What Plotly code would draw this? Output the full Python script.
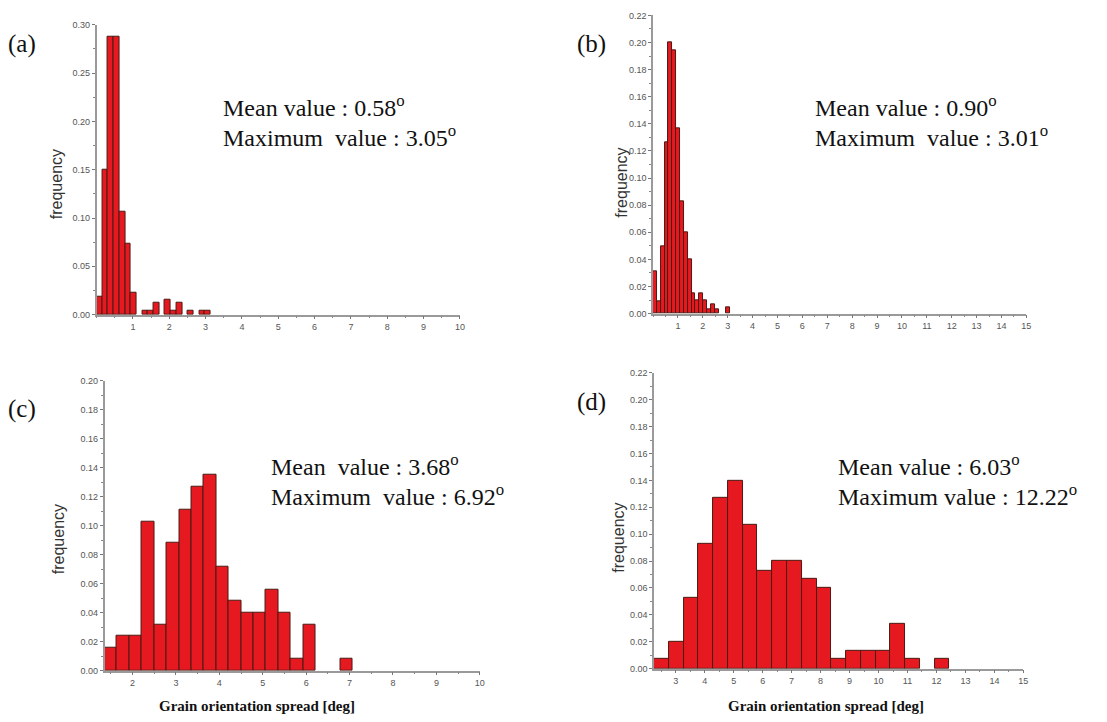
import plotly.graph_objects as go

W, H = 1107, 722

# ---------------- data ----------------
# each histogram: first bin edge, bin width, frequencies of 20 bins
a_start, a_width = 0.0, 0.157
a_freq = [0.019, 0.150, 0.288, 0.288, 0.106, 0.073, 0.023, 0.0, 0.004, 0.004,
          0.012, 0.0, 0.015, 0.004, 0.012, 0.0, 0.004, 0.0, 0.004, 0.004]

b_start, b_width = 0.0, 0.155
b_freq = [0.031, 0.009, 0.050, 0.126, 0.200, 0.194, 0.137, 0.083, 0.060, 0.040,
          0.015, 0.010, 0.015, 0.010, 0.003, 0.007, 0.003, 0.0, 0.0, 0.005]

c_start, c_width = 1.356, 0.286
c_freq = [0.016, 0.024, 0.024, 0.103, 0.032, 0.088, 0.111, 0.127, 0.135, 0.072,
          0.048, 0.040, 0.040, 0.056, 0.040, 0.008, 0.032, 0.0, 0.0, 0.008]

d_start, d_width = 2.25, 0.51
d_freq = [0.007, 0.020, 0.053, 0.093, 0.127, 0.140, 0.107, 0.073, 0.080, 0.080,
          0.067, 0.060, 0.007, 0.013, 0.013, 0.013, 0.033, 0.007, 0.0, 0.007]

a_xrange, a_yrange, a_ydtick = [0, 10], [0, 0.30], 0.05
b_xrange, b_yrange, b_ydtick = [0, 15], [0, 0.22], 0.02
c_xrange, c_yrange, c_ydtick = [1.356, 10], [0, 0.20], 0.02
d_xrange, d_yrange, d_ydtick = [2.25, 15], [0, 0.22], 0.02

a_xticks = list(range(1, 11))
b_xticks = list(range(1, 16))
c_xticks = list(range(2, 11))
d_xticks = list(range(3, 16))

panel_labels = ["(a)", "(b)", "(c)", "(d)"]
mean_texts = ["Mean value : 0.58", "Mean value : 0.90",
              "Mean\u00a0 value : 3.68", "Mean value : 6.03"]
max_texts = ["Maximum\u00a0 value : 3.05", "Maximum\u00a0 value : 3.01",
             "Maximum\u00a0 value : 6.92", "Maximum value : 12.22"]
y_title = "frequency"
x_title = "Grain orientation spread [deg]"

# ---------------- layout geometry (pixels) ----------------
# (left, right, top, bottom) of each plot area
boxes = [(97, 462, 20, 314), (656, 1031, 10.5, 313),
         (105, 482, 381, 675), (657, 1028, 373, 673)]
text_pos = [(222, 102, 133), (817, 102, 133), (270, 466, 497), (840, 466, 497)]
label_pos = [(6, 40), (578, 40), (6, 410), (578, 403)]
ytitle_pos = [(57, 182), (624, 180), (59, 542), (621, 540)]
xtitle_cx = [None, None, 258, 830]

BAR = "#e5191f"
EDGE = "#4a1a14"
AX = "#9a9a9a"
TICKF = dict(family="Liberation Sans, Arial", size=9, color="#555555")
SERIF = "Liberation Serif, Times New Roman"

fig = go.Figure()

datasets = [(a_start, a_width, a_freq, a_xrange, a_yrange, a_ydtick, a_xticks),
            (b_start, b_width, b_freq, b_xrange, b_yrange, b_ydtick, b_xticks),
            (c_start, c_width, c_freq, c_xrange, c_yrange, c_ydtick, c_xticks),
            (d_start, d_width, d_freq, d_xrange, d_yrange, d_ydtick, d_xticks)]

layout = dict(width=W, height=H, margin=dict(l=0, r=0, t=0, b=0),
              paper_bgcolor="white", plot_bgcolor="white",
              showlegend=False, bargap=0, annotations=[])

for i, (s, w, f, xr, yr, ydt, xt) in enumerate(datasets):
    n = "" if i == 0 else str(i + 1)
    centers = [s + (k + 0.5) * w for k in range(len(f))]
    vals = [v if v > 0 else None for v in f]
    fig.add_trace(go.Bar(x=centers, y=vals, width=w,
                         marker=dict(color=BAR, line=dict(color=EDGE, width=1)),
                         xaxis="x" + n, yaxis="y" + n, hoverinfo="x+y"))
    l, r, t, b = boxes[i]
    layout["xaxis" + n] = dict(
        domain=[l / W, r / W], range=xr, anchor="y" + n,
        tickmode="array", tickvals=xt, ticktext=[str(v) for v in xt],
        showgrid=False, zeroline=False, showline=True, linecolor=AX, linewidth=1.5,
        ticks="outside", ticklen=3, tickcolor="#777", tickfont=TICKF,
        minor=dict(tickmode="linear", dtick=0.5, tick0=0, ticks="outside",
                   ticklen=2, tickcolor="#888"))
    layout["yaxis" + n] = dict(
        domain=[1 - b / H, 1 - t / H], range=yr, anchor="x" + n,
        tickmode="linear", tick0=0, dtick=ydt, tickformat=".2f",
        showgrid=False, zeroline=False, showline=True, linecolor=AX, linewidth=1.5,
        ticks="outside", ticklen=3, tickcolor="#777", tickfont=TICKF,
        minor=dict(dtick=ydt / 2, tick0=0, ticks="outside", ticklen=2, tickcolor="#888"))

    tx, ty1, ty2 = text_pos[i]
    for txt, ty in ((mean_texts[i], ty1), (max_texts[i], ty2)):
        layout["annotations"].append(dict(
            x=tx / W, y=1 - ty / H, xref="paper", yref="paper",
            xanchor="left", yanchor="middle", showarrow=False,
            text=txt + "<sup>o</sup>",
            font=dict(family=SERIF, size=24, color="#111")))
    lx, ly = label_pos[i]
    layout["annotations"].append(dict(
        x=lx / W, y=1 - ly / H, xref="paper", yref="paper",
        xanchor="left", yanchor="middle", showarrow=False, text=panel_labels[i],
        font=dict(family=SERIF, size=25, color="#111")))
    fx, fy = ytitle_pos[i]
    layout["annotations"].append(dict(
        x=fx / W, y=1 - fy / H, xref="paper", yref="paper",
        xanchor="center", yanchor="middle", showarrow=False, textangle=-90,
        text=y_title,
        font=dict(family="Liberation Sans, Arial", size=16, color="#333")))
    if xtitle_cx[i] is not None:
        layout["annotations"].append(dict(
            x=xtitle_cx[i] / W, y=1 - 711 / H, xref="paper", yref="paper",
            xanchor="center", yanchor="middle", showarrow=False,
            text="<b>" + x_title + "</b>",
            font=dict(family=SERIF, size=15, color="#111")))

fig.update_layout(**layout)
fig.write_html("out.html")
